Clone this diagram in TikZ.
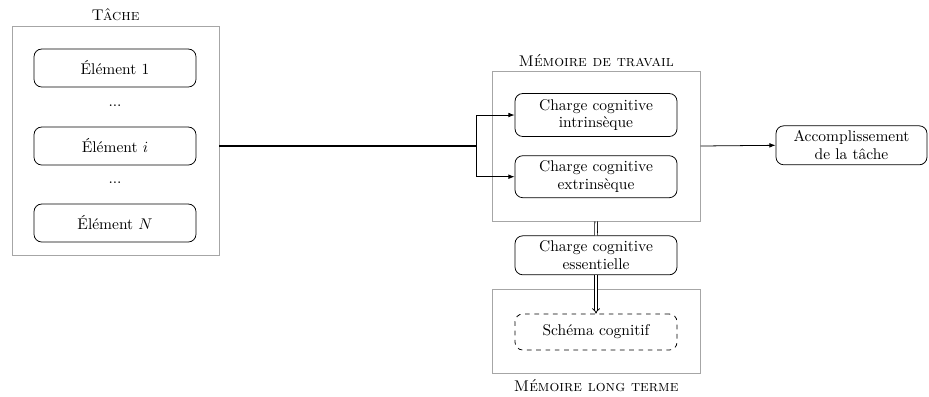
\documentclass[tikz,border=0pt]{standalone}
\usetikzlibrary{arrows.meta}
\begin{document}
\begin{tikzpicture}[x=0.645pt,y=-0.645pt,
  outerbox/.style={draw=black!35,line width=0.6pt,inner sep=0pt},
  item/.style={draw,rounded corners=5pt,line width=0.5pt,inner sep=0pt,
    minimum width={162*0.645pt},align=center,font=\fontsize{10}{11.4}\selectfont},
  title/.style={font=\scshape,inner sep=0pt},
  arr/.style={-{Latex[length=4pt,width=3pt]},line width=0.5pt},
  dbl/.style={double,double distance=1.2pt,line width=0.5pt}]
\useasboundingbox (0,0) rectangle (929,396);
% Task
\node[outerbox,minimum width={207*0.645pt},minimum height={229*0.645pt}] (tache) at (115.5,141.2) {};
\node[title] (ttache) at (115.5,15) {Tâche};
\node[item,minimum height={38*0.645pt}] (e1) at (115,68) {Élément 1};
\node (d1) at (115,106) {...};
\node[item,minimum height={38*0.645pt}] (ei) at (115,146) {Élément $i$};
\node (d2) at (115,183) {...};
\node[item,minimum height={38*0.645pt}] (eN) at (115,223) {Élément $N$};
% Working memory
\node[outerbox,minimum width={208*0.645pt},minimum height={150*0.645pt}] (wm) at (596.2,146) {};
\node[title] (twm) at (596.2,61) {Mémoire de travail};
\node[item,minimum height={43*0.645pt}] (intr) at (596,115) {Charge cognitive\\intrinsèque};
\node[item,minimum height={42*0.645pt}] (extr) at (596,176.7) {Charge cognitive\\extrinsèque};
% Accomplishment
\node[item,minimum width={151*0.645pt},minimum height={39*0.645pt}] (acc) at (851.5,145.3) {Accomplissement\\de la tâche};
% Essential
\node[item,minimum height={39*0.645pt}] (ess) at (596,255.3) {Charge cognitive\\essentielle};
% Long-term memory
\node[outerbox,minimum width={208*0.645pt},minimum height={84*0.645pt}] (lt) at (596.2,331.3) {};
\node[item,dashed,minimum height={36*0.645pt}] (sch) at (596,332) {Schéma cognitif};
\node[title] (tlt) at (596.2,386) {Mémoire long terme};
% connectors
\coordinate (br) at (476.7,146);
\draw[line width=0.9pt] (tache.east |- ei) -- (br);
\draw[arr] (br) |- (intr.west);
\draw[arr] (br) |- (extr.west);
\draw[arr] (wm.east) -- (acc.west);
\draw[dbl] (wm.south) -- (ess.north);
\draw[dbl,-{Implies[length=3.5pt,width=7pt]}] (ess.south) -- (sch.north);
\end{tikzpicture}
\end{document}
